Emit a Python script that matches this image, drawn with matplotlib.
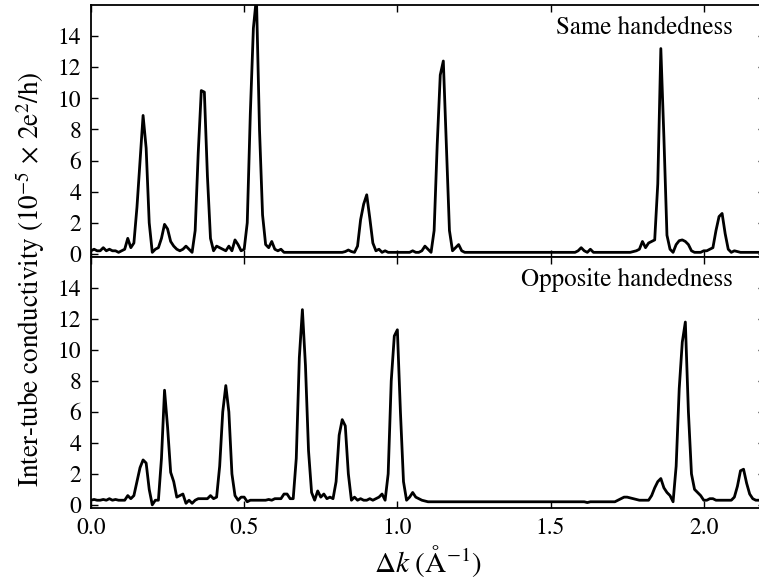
import numpy as np
import matplotlib
matplotlib.use("Agg")
import matplotlib.pyplot as plt

plt.rcParams['font.family'] = 'STIXGeneral'
plt.rcParams['mathtext.fontset'] = 'stix'

# delta k grid (1/A), 0.01 steps from 0 to 2.2
dk = np.round(np.arange(221) * 0.01, 2)

# same handedness
same = [
    0.2, 0.3, 0.2, 0.2, 0.4, 0.2, 0.3, 0.2, 0.2, 0.1,    # 0.00
    0.2, 0.3, 1.0, 0.4, 0.7, 3.0, 6.0, 8.9, 6.8, 2.0,    # 0.10
    0.1, 0.3, 0.4, 1.0, 1.9, 1.6, 0.8, 0.5, 0.3, 0.2,    # 0.20
    0.3, 0.5, 0.3, 0.1, 1.5, 6.5, 10.5, 10.4, 5.0, 1.0,  # 0.30
    0.2, 0.5, 0.4, 0.3, 0.2, 0.5, 0.2, 0.9, 0.6, 0.2,    # 0.40
    0.3, 2.0, 9.0, 14.5, 16.5, 8.0, 2.5, 0.6, 0.4, 0.8,  # 0.50
    0.3, 0.2, 0.3, 0.1, 0.1, 0.1, 0.1, 0.1, 0.1, 0.1,    # 0.60
    0.1, 0.1, 0.1, 0.1, 0.1, 0.1, 0.1, 0.1, 0.1, 0.1,    # 0.70
    0.1, 0.1, 0.1, 0.15, 0.25, 0.15, 0.1, 0.5, 2.2, 3.2, # 0.80
    3.8, 2.3, 0.7, 0.2, 0.3, 0.1, 0.2, 0.1, 0.1, 0.1,    # 0.90
    0.1, 0.1, 0.1, 0.1, 0.1, 0.2, 0.1, 0.1, 0.2, 0.5,    # 1.00
    0.3, 0.1, 1.5, 7.0, 11.5, 12.4, 7.0, 1.5, 0.2, 0.4,  # 1.10
    0.6, 0.2, 0.1, 0.1, 0.1, 0.1, 0.1, 0.1, 0.1, 0.1,    # 1.20
    0.1, 0.1, 0.1, 0.1, 0.1, 0.1, 0.1, 0.1, 0.1, 0.1,    # 1.30
    0.1, 0.1, 0.1, 0.1, 0.1, 0.1, 0.1, 0.1, 0.1, 0.1,    # 1.40
    0.1, 0.1, 0.1, 0.1, 0.1, 0.1, 0.1, 0.1, 0.1, 0.2,    # 1.50
    0.4, 0.2, 0.1, 0.3, 0.1, 0.1, 0.1, 0.1, 0.1, 0.1,    # 1.60
    0.1, 0.1, 0.1, 0.1, 0.1, 0.1, 0.1, 0.15, 0.2, 0.3,   # 1.70
    0.8, 0.4, 0.7, 0.8, 0.9, 4.5, 13.2, 7.5, 1.2, 0.3,   # 1.80
    0.1, 0.6, 0.85, 0.9, 0.8, 0.6, 0.2, 0.1, 0.1, 0.1,   # 1.90
    0.2, 0.2, 0.3, 0.4, 1.5, 2.4, 2.6, 1.3, 0.3, 0.1,    # 2.00
    0.2, 0.15, 0.1, 0.1, 0.1, 0.1, 0.1, 0.1, 0.1, 0.1,   # 2.10
    0.1,                                                 # 2.20
]

# opposite handedness
opposite = [
    0.3, 0.35, 0.3, 0.3, 0.35, 0.3, 0.4, 0.3, 0.35, 0.3, # 0.00
    0.3, 0.3, 0.6, 0.4, 0.6, 1.5, 2.4, 2.9, 2.7, 1.0,    # 0.10
    0.0, 0.3, 0.3, 3.0, 7.4, 5.0, 2.1, 1.5, 0.5, 0.6,    # 0.20
    0.7, 0.1, 0.3, 0.1, 0.3, 0.4, 0.4, 0.4, 0.4, 0.6,    # 0.30
    0.4, 0.5, 2.5, 6.0, 7.7, 6.0, 2.0, 0.6, 0.3, 0.5,    # 0.40
    0.5, 0.2, 0.3, 0.3, 0.3, 0.3, 0.3, 0.3, 0.35, 0.3,   # 0.50
    0.4, 0.4, 0.4, 0.7, 0.7, 0.4, 0.4, 3.0, 9.5, 12.6,   # 0.60
    9.0, 3.5, 0.8, 0.3, 0.9, 0.5, 0.7, 0.4, 0.5, 0.4,    # 0.70
    1.5, 4.5, 5.5, 5.1, 2.0, 0.3, 0.5, 0.3, 0.4, 0.3,    # 0.80
    0.3, 0.4, 0.3, 0.4, 0.5, 0.7, 0.3, 2.0, 8.0, 10.9,   # 0.90
    11.3, 6.0, 1.5, 0.3, 0.5, 0.8, 0.5, 0.4, 0.3, 0.25,  # 1.00
    0.2, 0.2, 0.2, 0.2, 0.2, 0.2, 0.2, 0.2, 0.2, 0.2,    # 1.10
    0.2, 0.2, 0.2, 0.2, 0.2, 0.2, 0.2, 0.2, 0.2, 0.2,    # 1.20
    0.2, 0.2, 0.2, 0.2, 0.2, 0.2, 0.2, 0.2, 0.2, 0.2,    # 1.30
    0.2, 0.2, 0.2, 0.2, 0.2, 0.2, 0.2, 0.2, 0.2, 0.2,    # 1.40
    0.2, 0.2, 0.2, 0.2, 0.2, 0.2, 0.2, 0.2, 0.2, 0.2,    # 1.50
    0.2, 0.2, 0.15, 0.2, 0.2, 0.2, 0.2, 0.2, 0.2, 0.2,   # 1.60
    0.2, 0.2, 0.3, 0.4, 0.5, 0.5, 0.45, 0.4, 0.35, 0.3,  # 1.70
    0.3, 0.3, 0.3, 0.6, 1.1, 1.5, 1.7, 1.1, 0.8, 0.6,    # 1.80
    0.2, 2.5, 7.5, 10.5, 11.8, 6.0, 2.0, 1.0, 0.8, 0.6,  # 1.90
    0.3, 0.3, 0.4, 0.4, 0.3, 0.3, 0.3, 0.3, 0.3, 0.3,    # 2.00
    0.5, 1.2, 2.2, 2.3, 1.4, 0.7, 0.4, 0.3, 0.3, 0.3,    # 2.10
    0.3,                                                 # 2.20
]

labels = ["Same handedness", "Opposite handedness"]
yticks = [0, 2, 4, 6, 8, 10, 12, 14]
xticks = [0.0, 0.5, 1.0, 1.5, 2.0]

fig = plt.figure(figsize=(7.59, 5.88), dpi=100)
# axes run slightly past the right edge, like the cropped original
ax1 = fig.add_axes([0.1199, 0.5629, 0.888, 0.4286])
ax2 = fig.add_axes([0.1199, 0.1361, 0.888, 0.4269])

for ax, y, lab in zip([ax1, ax2], [same, opposite], labels):
    ax.plot(dk, y, color='black', linewidth=2.0)
    ax.set_xlim(0, 2.2)
    ax.set_ylim(-0.2, 16)
    ax.set_yticks(yticks)
    ax.set_xticks(xticks)
    ax.tick_params(direction='in', top=True, right=True, length=5, width=1,
                   labelsize=17, pad=7)
    for s in ax.spines.values():
        s.set_linewidth(1.3)
    ax.text(0.9525, 0.91, lab, transform=ax.transAxes, ha='right', va='center',
            fontsize=18)

ax1.tick_params(labelbottom=False)
ax2.set_xticklabels(["0.0", "0.5", "1.0", "1.5", "2.0"])
ax2.set_xlabel(r'$\Delta k\ (\mathrm{\AA}^{-1})$', fontsize=21, labelpad=3)

fig.text(0.04, 0.525,
         r'Inter-tube conductivity $(10^{-5}\,\times\,2\mathrm{e}^2/\mathrm{h})$',
         rotation=90, ha='center', va='center', fontsize=19.5)

fig.savefig('out.png', dpi=100)
